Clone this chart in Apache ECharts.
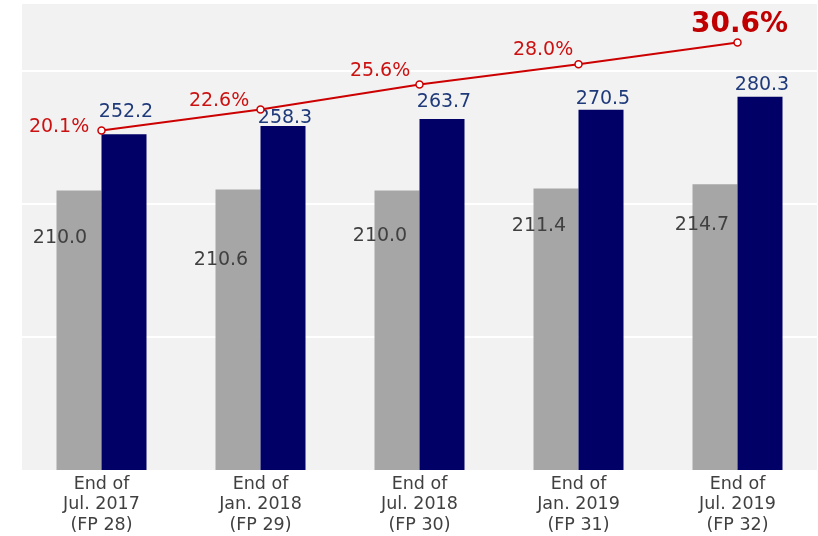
<!DOCTYPE html>
<html>
<head>
<meta charset="utf-8">
<script src="https://cdn.jsdelivr.net/npm/echarts@6/dist/echarts.min.js"></script>
<style>
  html, body { margin: 0; padding: 0; background: #ffffff; }
  #chart { width: 818px; height: 536px; }
</style>
</head>
<body>
<div id="chart"></div>
<script>
// Period-end categories
const categories = [
  'End of\nJul. 2017\n(FP 28)',
  'End of\nJan. 2018\n(FP 29)',
  'End of\nJul. 2018\n(FP 30)',
  'End of\nJan. 2019\n(FP 31)',
  'End of\nJul. 2019\n(FP 32)'
];
// Grey bars
const greyValues = [210.0, 210.6, 210.0, 211.4, 214.7];
// Navy bars
const navyValues = [252.2, 258.3, 263.7, 270.5, 280.3];
// Ratio line (%)
const ratioValues = [20.1, 22.6, 25.6, 28.0, 30.6];

// Label nudges (px) so the value labels clear the line and each other
const greyLabelOffsets = [[-19, 33], [-17, 56], [-17, 31], [-17, 23], [-13, 26]];
const navyLabelOffsets = [[2, -10], [2, 4], [2, -4], [2, 2], [2, 1]];
const ratioLabelOffsets = [[2, -3], [3, -9], [5, -13], [9, -14], [2, 4]];

const FONT = '"DejaVu Sans", Verdana, sans-serif';

const chart = echarts.init(document.getElementById('chart'));

const greyData = greyValues.map((v, i) => ({
  value: v,
  label: { offset: greyLabelOffsets[i] }
}));

const navyData = navyValues.map((v, i) => ({
  value: v,
  label: { offset: navyLabelOffsets[i] }
}));

const ratioData = ratioValues.map((v, i) => {
  const last = i === ratioValues.length - 1;
  return {
    value: v,
    label: last ? {
      position: 'top',
      distance: 4,
      fontSize: 28,
      fontWeight: 'bold',
      color: '#c00000',
      offset: ratioLabelOffsets[i]
    } : {
      position: 'left',
      distance: 10,
      offset: ratioLabelOffsets[i]
    }
  };
});

chart.setOption({
  animation: false,
  grid: {
    left: 22, right: 1, top: 4, bottom: 66,
    show: true,
    backgroundColor: '#f2f2f2',
    borderWidth: 0
  },
  xAxis: {
    type: 'category',
    data: categories,
    axisLine: { show: false },
    axisTick: { show: false },
    axisLabel: {
      color: '#404040',
      fontFamily: FONT,
      fontSize: 17.5,
      lineHeight: 20.5,
      margin: 4,
      interval: 0
    }
  },
  yAxis: [{
    type: 'value',
    min: 0, max: 350, interval: 100,
    axisLabel: { show: false },
    axisLine: { show: false },
    axisTick: { show: false },
    splitLine: {
      show: true,
      showMinLine: false,
      showMaxLine: false,
      lineStyle: { color: '#ffffff', width: 2 }
    }
  }, {
    type: 'value',
    min: -20.4, max: 35.2,
    axisLabel: { show: false },
    axisLine: { show: false },
    axisTick: { show: false },
    splitLine: { show: false }
  }],
  series: [{
    type: 'bar',
    data: greyData,
    barWidth: 45,
    barGap: '0%',
    itemStyle: { color: '#a6a6a6' },
    label: {
      show: true,
      position: 'insideTop',
      color: '#404040',
      fontFamily: FONT,
      fontSize: 19,
      formatter: p => p.value.toFixed(1)
    },
    z: 2
  }, {
    type: 'bar',
    data: navyData,
    barWidth: 45,
    barGap: '0%',
    itemStyle: { color: '#000066' },
    label: {
      show: true,
      position: 'top',
      distance: 3,
      color: '#1f3a7a',
      fontFamily: FONT,
      fontSize: 19,
      formatter: p => p.value.toFixed(1)
    },
    z: 2
  }, {
    type: 'line',
    yAxisIndex: 1,
    data: ratioData,
    symbol: 'circle',
    symbolSize: 7,
    itemStyle: { color: '#ffffff', borderColor: '#cc0000', borderWidth: 1.5 },
    lineStyle: { color: '#cc0000', width: 2 },
    label: {
      show: true,
      color: '#cc1111',
      fontFamily: FONT,
      fontSize: 19,
      formatter: p => p.value.toFixed(1) + '%'
    },
    z: 5
  }]
});
</script>
</body>
</html>
